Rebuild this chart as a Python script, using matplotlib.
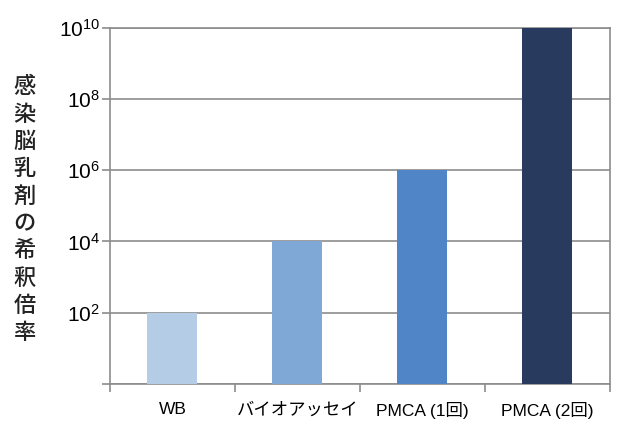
import matplotlib.pyplot as plt
import numpy as np

plt.rcParams['font.family'] = ['Liberation Sans', 'Noto Sans CJK JP']
plt.rcParams['mathtext.fontset'] = 'custom'
plt.rcParams['mathtext.rm'] = 'Liberation Sans'
plt.rcParams['mathtext.it'] = 'Liberation Sans'

categories = ["WB", "バイオアッセイ", "PMCA (1回)", "PMCA (2回)"]
dilution = [1e2, 1e4, 1e6, 1e10]
bar_colors = ['#B5CCE6', '#7FA8D6', '#5085C8', '#283A5E']
y_ticks = [1e0, 1e2, 1e4, 1e6, 1e8, 1e10]
y_tick_labels = ['', r'$10^{2}$', r'$10^{4}$', r'$10^{6}$', r'$10^{8}$', r'$10^{10}$']
ylabel = "感染脳乳剤の希釈倍率"

fig = plt.figure(figsize=(6.21, 4.28), dpi=100)
ax = fig.add_axes([0.177, 0.103, 0.805, 0.832])

x = np.arange(len(categories))
ax.bar(x, dilution, width=0.4, color=bar_colors, zorder=3)

ax.set_yscale('log')
ax.set_ylim(1, 1e10)
ax.set_xlim(-0.5, len(categories) - 0.5)
ax.set_yticks(y_ticks)
ax.set_yticklabels(y_tick_labels, fontsize=15)
ax.yaxis.set_minor_locator(plt.NullLocator())
ax.yaxis.grid(True, color='#8c8c8c', linewidth=1.2, zorder=1)

# category boundaries get tick marks, names sit in between
ax.set_xticks(np.arange(len(categories) + 1) - 0.5)
ax.set_xticklabels([])
ax.set_xticks(x, minor=True)
ax.set_xticklabels(categories, minor=True, fontsize=12.5)
ax.tick_params(axis='x', which='minor', length=0, pad=13)
ax.tick_params(axis='x', which='major', length=6, color='#8c8c8c', width=1.2)
ax.tick_params(axis='y', length=6, color='#8c8c8c', width=1.2, pad=1)

for side in ['left', 'right', 'top', 'bottom']:
    ax.spines[side].set_color('#8c8c8c')
    ax.spines[side].set_linewidth(1.2)

fig.text(0.04, 0.51, '\n'.join(ylabel), fontsize=16, ha='center', va='center',
         linespacing=1.24, family=['Noto Sans CJK JP'], fontweight='medium',
         color='#222222')

fig.savefig('out.png', dpi=100)
